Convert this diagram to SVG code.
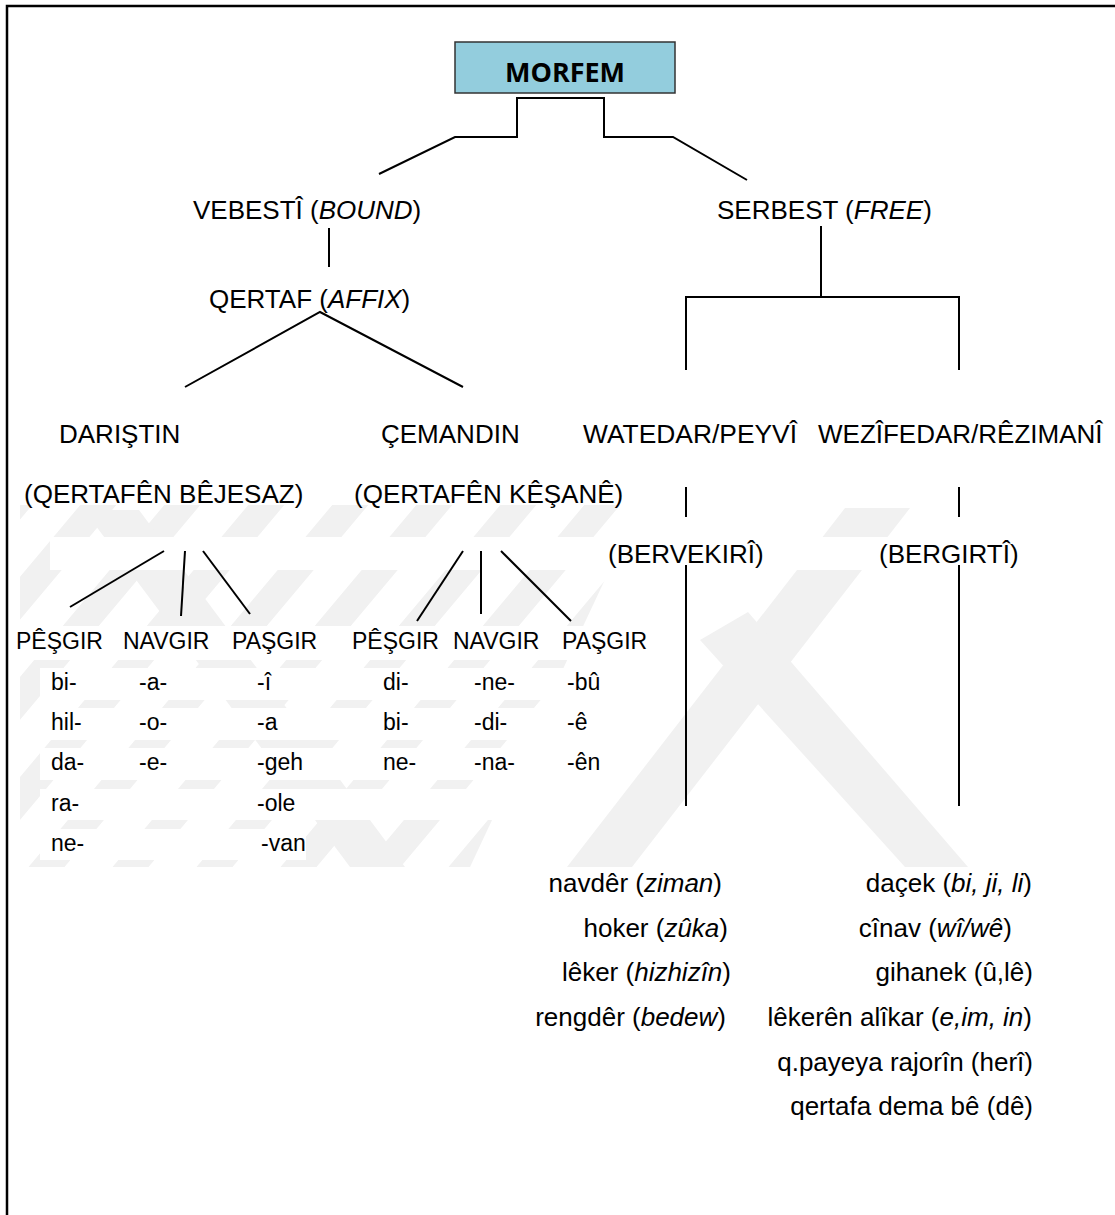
<svg xmlns="http://www.w3.org/2000/svg" width="1115" height="1215" viewBox="0 0 1115 1215">
  <defs>
    <style>
      text { font-family: "Liberation Sans", Arial, sans-serif; fill: #000; }
      .h { font-size: 26px; }
      .s { font-size: 23px; }
      .l { font-size: 26px; }
      .it { font-style: italic; }
      .ln { stroke: #000; stroke-width: 2; fill: none; }
      .wm { fill: #f1f1f1; }
      .bg { fill: #ffffff; }
      .root { fill: #93cddd; stroke: #333; stroke-width: 1.5; }
      .rt { font-family: "Open Sans", "Liberation Sans", sans-serif; font-weight: bold; font-size: 27px; }
    </style>
    <pattern id="hatch" patternUnits="userSpaceOnUse" width="84" height="10" patternTransform="skewX(-40)">
      <rect x="0" y="0" width="36" height="10" fill="#f1f1f1"/>
    </pattern>
    <clipPath id="wmArea">
      <polygon points="20,505 640,505 470,867 20,867"/>
    </clipPath>
  </defs>

  <rect x="0" y="0" width="1115" height="1215" fill="#ffffff"/>

  <!-- page frame -->
  <path d="M7,1215 V6 H1115" fill="none" stroke="#000" stroke-width="2.5"/>

  <!-- faint background emblem -->
  <g id="watermark">
    <rect x="20" y="505" width="620" height="362" fill="url(#hatch)" clip-path="url(#wmArea)"/>
    <polygon class="wm" points="84,510 139,510 405,867 350,867"/>
    <polygon class="wm" points="845,508 910,508 632,867 567,867"/>
    <polygon class="wm" points="700,640 748,612 968,867 905,867"/>
    <!-- white text backings -->
    <rect class="bg" x="50" y="537" width="975" height="33"/>
    <rect class="bg" x="10" y="626" width="642" height="34"/>
    <rect class="bg" x="40" y="668" width="570" height="32"/>
    <rect class="bg" x="40" y="708" width="560" height="32"/>
    <rect class="bg" x="40" y="748" width="575" height="32"/>
    <rect class="bg" x="40" y="789" width="528" height="31"/>
    <rect class="bg" x="40" y="829" width="266" height="31"/>
  </g>

  <!-- connectors -->
  <g id="connectors" class="ln">
    <path d="M379,174 L455,137 L517,137 L517,98 L604,98 L604,137 L673,137 L747,180"/>
    <path d="M329,228 V267"/>
    <path d="M185,387 L320,312 L463,387"/>
    <path d="M821,226 V297"/>
    <path d="M686,370 V297 H959 V370"/>
    <path d="M686,487 V517"/>
    <path d="M959,487 V517"/>
    <path d="M686,565 V806"/>
    <path d="M959,565 V806"/>
    <path d="M164,551 L70,607"/>
    <path d="M185,551 L181,616"/>
    <path d="M203,551 L250,614"/>
    <path d="M463,551 L417,621"/>
    <path d="M481,551 V614"/>
    <path d="M501,551 L571,621"/>
  </g>

  <!-- root -->
  <g id="morfem">
    <rect class="root" x="455" y="42" width="220" height="51"/>
    <text class="rt" x="565" y="82" text-anchor="middle" textLength="120" lengthAdjust="spacingAndGlyphs">MORFEM</text>
  </g>

  <g id="bound"><text class="h" x="193" y="219">VEBESTÎ (<tspan class="it">BOUND</tspan>)</text></g>
  <g id="free"><text class="h" x="717" y="219">SERBEST (<tspan class="it">FREE</tspan>)</text></g>
  <g id="affix"><text class="h" x="209" y="308">QERTAF (<tspan class="it">AFFIX</tspan>)</text></g>

  <g id="daristin">
    <text class="h" x="59" y="443">DARIŞTIN</text>
    <text class="h" x="24" y="503">(QERTAFÊN BÊJESAZ)</text>
  </g>
  <g id="cemandin">
    <text class="h" x="381" y="443">ÇEMANDIN</text>
    <text class="h" x="354" y="503">(QERTAFÊN KÊŞANÊ)</text>
  </g>
  <g id="watedar">
    <text class="h" x="583" y="443" textLength="214" lengthAdjust="spacingAndGlyphs">WATEDAR/PEYVÎ</text>
    <text class="h" x="608" y="563">(BERVEKIRÎ)</text>
  </g>
  <g id="wezifedar">
    <text class="h" x="818" y="443">WEZÎFEDAR/RÊZIMANÎ</text>
    <text class="h" x="879" y="563">(BERGIRTÎ)</text>
  </g>

  <!-- bound affixes: prefixes, infixes, suffixes -->
  <g id="daristin-pesgir">
    <text class="s" x="16" y="649">PÊŞGIR</text>
    <text class="s" x="51" y="690">bi-</text>
    <text class="s" x="51" y="730">hil-</text>
    <text class="s" x="51" y="770">da-</text>
    <text class="s" x="51" y="811">ra-</text>
    <text class="s" x="51" y="851">ne-</text>
  </g>
  <g id="daristin-navgir">
    <text class="s" x="123" y="649">NAVGIR</text>
    <text class="s" x="139" y="690">-a-</text>
    <text class="s" x="139" y="730">-o-</text>
    <text class="s" x="139" y="770">-e-</text>
  </g>
  <g id="daristin-pasgir">
    <text class="s" x="232" y="649">PAŞGIR</text>
    <text class="s" x="257" y="690">-î</text>
    <text class="s" x="257" y="730">-a</text>
    <text class="s" x="257" y="770">-geh</text>
    <text class="s" x="257" y="811">-ole</text>
    <text class="s" x="261" y="851">-van</text>
  </g>
  <g id="cemandin-pesgir">
    <text class="s" x="352" y="649">PÊŞGIR</text>
    <text class="s" x="383" y="690">di-</text>
    <text class="s" x="383" y="730">bi-</text>
    <text class="s" x="383" y="770">ne-</text>
  </g>
  <g id="cemandin-navgir">
    <text class="s" x="453" y="649">NAVGIR</text>
    <text class="s" x="474" y="690">-ne-</text>
    <text class="s" x="474" y="730">-di-</text>
    <text class="s" x="474" y="770">-na-</text>
  </g>
  <g id="cemandin-pasgir">
    <text class="s" x="562" y="649">PAŞGIR</text>
    <text class="s" x="567" y="690">-bû</text>
    <text class="s" x="567" y="730">-ê</text>
    <text class="s" x="567" y="770">-ên</text>
  </g>

  <!-- lexical examples -->
  <g id="lexical-list">
    <text class="l" x="722" y="892" text-anchor="end">navdêr (<tspan class="it">ziman</tspan>)</text>
    <text class="l" x="728" y="937" text-anchor="end">hoker (<tspan class="it">zûka</tspan>)</text>
    <text class="l" x="731" y="981" text-anchor="end">lêker (<tspan class="it">hizhizîn</tspan>)</text>
    <text class="l" x="726" y="1026" text-anchor="end">rengdêr (<tspan class="it">bedew</tspan>)</text>
  </g>

  <!-- functional examples -->
  <g id="functional-list">
    <text class="l" x="1032" y="892" text-anchor="end">daçek (<tspan class="it">bi, ji, li</tspan>)</text>
    <text class="l" x="1012" y="937" text-anchor="end">cînav (<tspan class="it">wî/wê</tspan>)</text>
    <text class="l" x="1033" y="981" text-anchor="end">gihanek (û,lê)</text>
    <text class="l" x="1032" y="1026" text-anchor="end">lêkerên alîkar (<tspan class="it">e,im, in</tspan>)</text>
    <text class="l" x="1033" y="1071" text-anchor="end">q.payeya rajorîn (herî)</text>
    <text class="l" x="1033" y="1115" text-anchor="end">qertafa dema bê (dê)</text>
  </g>
</svg>
